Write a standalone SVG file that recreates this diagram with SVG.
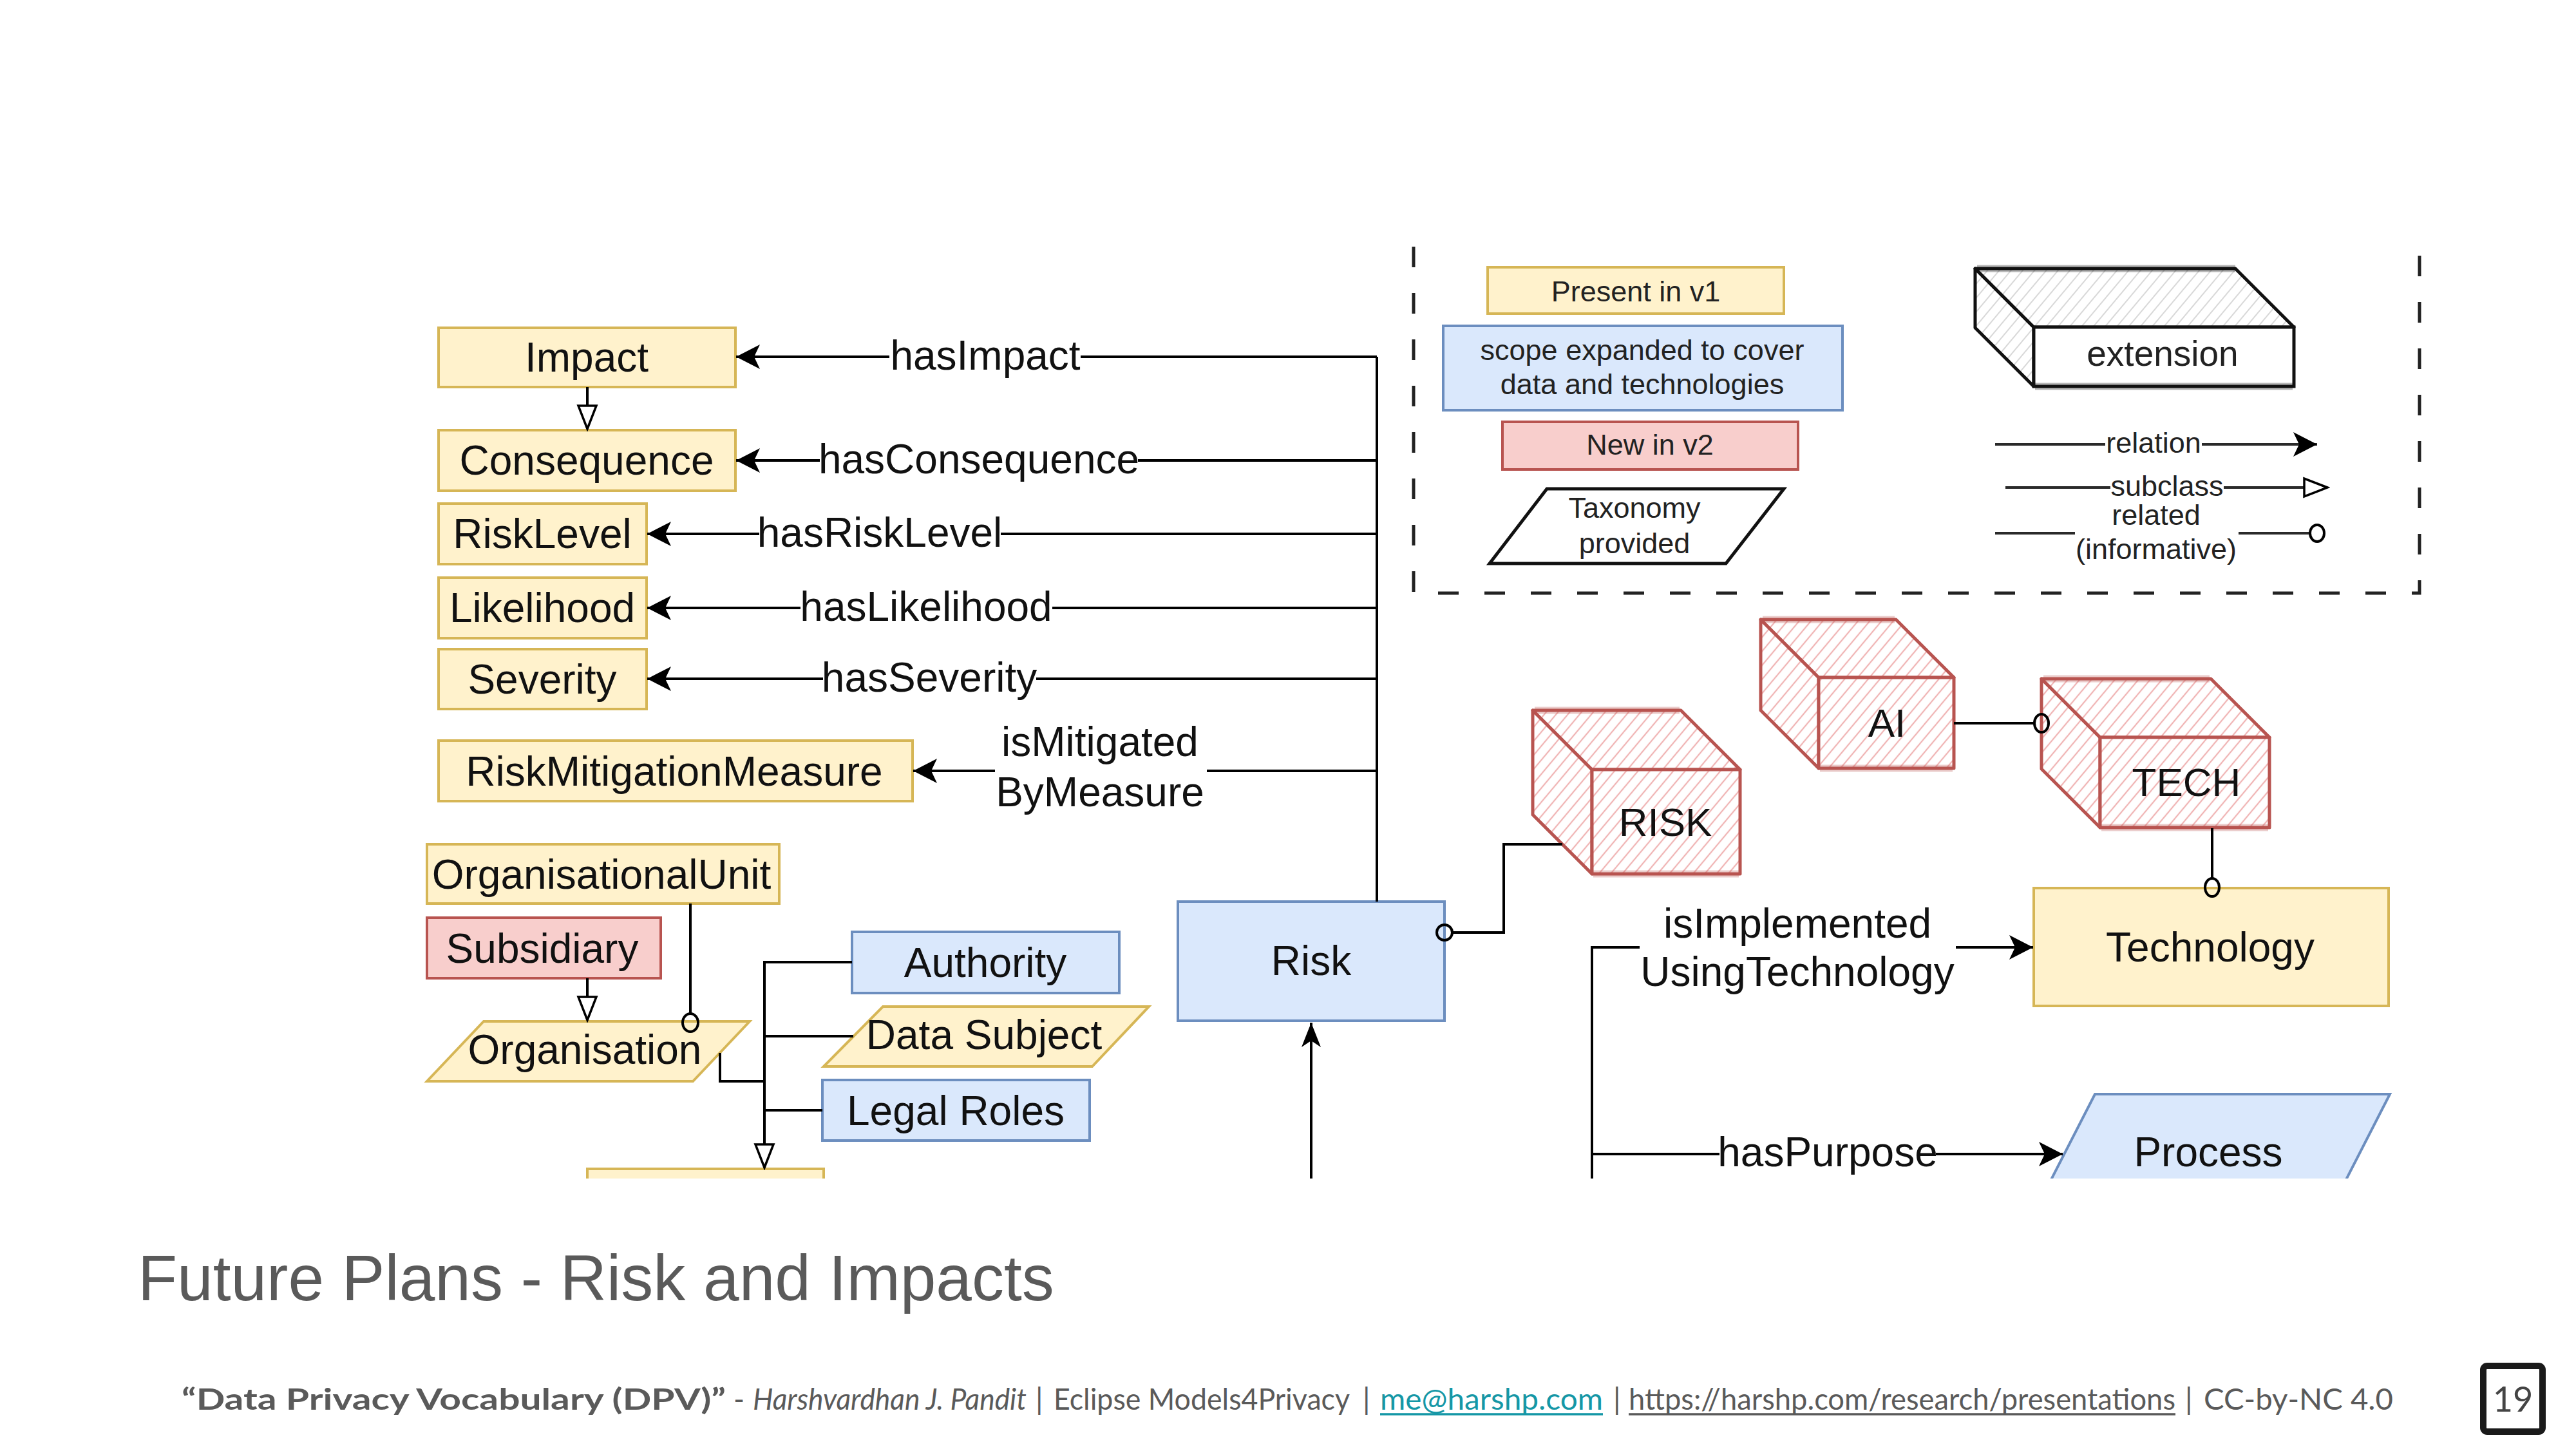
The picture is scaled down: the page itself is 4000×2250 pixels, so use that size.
<svg xmlns="http://www.w3.org/2000/svg" width="4000" height="2250" viewBox="0 0 4000 2250">
<defs>
<style>
.y{fill:#fff2cc;stroke:#d6b656;stroke-width:4}
.b{fill:#dae8fc;stroke:#6c8ebf;stroke-width:4}
.r{fill:#f8cecc;stroke:#b85450;stroke-width:4}
.t{font-family:"Liberation Sans",Arial,sans-serif;font-size:64px;fill:#111;text-anchor:middle}
.lg{font-family:"Liberation Sans",Arial,sans-serif;font-size:45px;fill:#222;text-anchor:middle}
.e{fill:none;stroke:#000;stroke-width:4}
.el{fill:none;stroke:#2a2a2a;stroke-width:4}
.ea{marker-end:url(#arr)}
.es{marker-end:url(#tri)}
.ci{fill:none;stroke:#000;stroke-width:4}
.cr{fill:url(#hatchR);stroke:#b85450;stroke-width:5;stroke-linejoin:round}
.crs{fill:none;stroke:#b85450;stroke-width:11;stroke-opacity:0.3}
.cx{fill:url(#hatchG);stroke:#111;stroke-width:5;stroke-linejoin:round}
.cxs{fill:none;stroke:#111;stroke-width:11;stroke-opacity:0.3}
.ft{font-family:Lato,"Open Sans",sans-serif;font-size:46px;fill:#5a5a5a}
</style>
<pattern id="hatchR" patternUnits="userSpaceOnUse" width="14" height="14" patternTransform="rotate(40)">
<rect width="14" height="14" fill="#fff"/>
<line x1="2" y1="0" x2="2" y2="14" stroke="#f0b4b4" stroke-width="2.2"/>
</pattern>
<pattern id="hatchG" patternUnits="userSpaceOnUse" width="14" height="14" patternTransform="rotate(40)">
<rect width="14" height="14" fill="#fff"/>
<line x1="2" y1="0" x2="2" y2="14" stroke="#d8d8d8" stroke-width="2"/>
</pattern>
<marker id="arr" markerUnits="userSpaceOnUse" viewBox="-40 -21 42 42" markerWidth="42" markerHeight="42" refX="0" refY="0" orient="auto">
<path d="M0,0 L-37,-19 L-28,0 L-37,19 Z" fill="#000"/>
</marker>
<marker id="arr2" markerUnits="userSpaceOnUse" viewBox="-40 -21 42 42" markerWidth="42" markerHeight="42" refX="0" refY="0" orient="auto">
<path d="M0,0 L-38,-15 L-28,0 L-38,15 Z" fill="#000"/>
</marker>
<marker id="tri" markerUnits="userSpaceOnUse" viewBox="-42 -20 46 40" markerWidth="46" markerHeight="40" refX="0" refY="0" orient="auto">
<path d="M0,0 L-36,-14 L-36,14 Z" fill="#fff" stroke="#000" stroke-width="3.5" stroke-linejoin="miter"/>
</marker>
<clipPath id="clipD"><rect x="0" y="0" width="4000" height="1830"/></clipPath>
</defs>
<rect width="4000" height="2250" fill="#fff"/>

<g id="legend">
<path d="M2195,383 V921 H3757 V383" fill="none" stroke="#222" stroke-width="5" stroke-dasharray="32 40"/>
<g id="legend-v1"><rect class="y" x="2310" y="415" width="460" height="72"/><text class="lg" x="2540" y="468">Present in v1</text></g>
<g id="legend-scope"><rect class="b" x="2241" y="506" width="620" height="131"/><text class="lg" x="2550" y="559">scope expanded to cover</text><text class="lg" x="2550" y="612">data and technologies</text></g>
<g id="legend-v2"><rect class="r" x="2333" y="655" width="459" height="74"/><text class="lg" x="2562" y="706">New in v2</text></g>
<g id="legend-taxonomy"><path d="M2402,759 H2770 L2680,875 H2313 Z" fill="#fff" stroke="#111" stroke-width="5"/><text class="lg" x="2538" y="804">Taxonomy</text><text class="lg" x="2538" y="859">provided</text></g>
<g id="legend-extension">
<path class="cx" d="M3067,417 L3158,508 V600 L3067,509 Z"/>
<path class="cx" d="M3067,417 H3471 L3562,508 H3158 Z"/>
<rect x="3158" y="508" width="404" height="92" fill="#fff" stroke="#111" stroke-width="5"/>
<path class="cxs" d="M3070,417 H3471 M3160,600 H3560"/>
<text x="3358" y="568" font-family="'Liberation Sans',Arial,sans-serif" font-size="55" fill="#222" text-anchor="middle">extension</text>
</g>
<g id="legend-lines">
<path class="el" d="M3098,690 H3269 M3419,690 H3598" marker-end="url(#arr)"/>
<text class="lg" x="3344" y="703">relation</text>
<path class="el" d="M3114,757 H3277 M3453,757 H3614" marker-end="url(#tri)"/>
<text class="lg" x="3365" y="770">subclass</text>
<path class="el" d="M3098,828 H3222 M3476,828 H3586"/>
<ellipse class="ci" cx="3598" cy="828" rx="11" ry="13"/>
<text class="lg" x="3348" y="815">related</text>
<text class="lg" x="3348" y="868">(informative)</text>
</g>
</g>

<g id="nodes">
<g id="impact"><rect class="y" x="681" y="509" width="461" height="92"/><text class="t" x="911" y="577">Impact</text></g>
<g id="consequence"><rect class="y" x="681" y="668" width="461" height="94"/><text class="t" x="911" y="737">Consequence</text></g>
<g id="risklevel"><rect class="y" x="681" y="782" width="323" height="94"/><text class="t" x="842" y="851">RiskLevel</text></g>
<g id="likelihood"><rect class="y" x="681" y="897" width="323" height="94"/><text class="t" x="842" y="966">Likelihood</text></g>
<g id="severity"><rect class="y" x="681" y="1008" width="323" height="93"/><text class="t" x="842" y="1077">Severity</text></g>
<g id="riskmitigationmeasure"><rect class="y" x="681" y="1150" width="736" height="94"/><text class="t" x="1047" y="1220">RiskMitigationMeasure</text></g>
<g id="organisationalunit"><rect class="y" x="663" y="1311" width="547" height="92"/><text class="t" x="934" y="1380">OrganisationalUnit</text></g>
<g id="subsidiary"><rect class="r" x="663" y="1425" width="363" height="94"/><text class="t" x="842" y="1495">Subsidiary</text></g>
<g id="organisation"><path class="y" d="M751,1586 H1164 L1076,1679 H663 Z"/><text class="t" x="908" y="1652">Organisation</text></g>
<g id="authority"><rect class="b" x="1323" y="1447" width="415" height="95"/><text class="t" x="1530" y="1517">Authority</text></g>
<g id="datasubject"><path class="y" d="M1371,1563 H1784 L1696,1656 H1279 Z"/><text class="t" x="1528" y="1629">Data Subject</text></g>
<g id="legalroles"><rect class="b" x="1277" y="1677" width="415" height="94"/><text class="t" x="1484" y="1747">Legal Roles</text></g>
<g id="bottombox" clip-path="url(#clipD)"><rect class="y" x="912" y="1815" width="367" height="90"/></g>
<g id="risk"><rect class="b" x="1829" y="1400" width="414" height="185"/><text class="t" x="2036" y="1514">Risk</text></g>
<g id="technology"><rect class="y" x="3158" y="1379" width="551" height="183"/><text class="t" x="3432" y="1493">Technology</text></g>
<g id="process" clip-path="url(#clipD)"><path class="b" d="M3253,1699 H3711 L3608,1900 H3150 Z"/><text class="t" x="3429" y="1811">Process</text></g>
<g id="risk-ext">
<path class="cr" d="M2380,1103 L2472,1195 V1357 L2380,1265 Z"/>
<path class="cr" d="M2380,1103 H2610 L2702,1195 H2472 Z"/>
<rect class="cr" x="2472" y="1195" width="230" height="162"/>
<path class="crs" d="M2383,1103 H2608 M2474,1357 H2700"/>
<text x="2586" y="1298" font-family="'Liberation Sans',Arial,sans-serif" font-size="62" fill="#111" text-anchor="middle">RISK</text>
</g>
<g id="ai-ext">
<path class="cr" d="M2734,962 L2824,1052 V1193 L2734,1103 Z"/>
<path class="cr" d="M2734,962 H2944 L3034,1052 H2824 Z"/>
<rect class="cr" x="2824" y="1052" width="210" height="141"/>
<path class="crs" d="M2737,962 H2942 M2826,1193 H3032"/>
<text x="2930" y="1144" font-family="'Liberation Sans',Arial,sans-serif" font-size="62" fill="#111" text-anchor="middle">AI</text>
</g>
<g id="tech-ext">
<path class="cr" d="M3170,1054 L3261,1145 V1285 L3170,1194 Z"/>
<path class="cr" d="M3170,1054 H3433 L3524,1145 H3261 Z"/>
<rect class="cr" x="3261" y="1145" width="263" height="140"/>
<path class="crs" d="M3173,1054 H3431 M3263,1285 H3522"/>
<text x="3395" y="1236" font-family="'Liberation Sans',Arial,sans-serif" font-size="62" fill="#111" text-anchor="middle">TECH</text>
</g>
</g>

<g id="connectors">
<path class="e" d="M2138,554 V1400" stroke-width="5"/>
<path class="e" d="M2138,554 H1678"/>
<path class="e ea" d="M1381,554 H1143"/>
<path class="e" d="M2138,715 H1767"/>
<path class="e ea" d="M1273,715 H1143"/>
<path class="e" d="M2138,829 H1554"/>
<path class="e ea" d="M1179,829 H1005"/>
<path class="e" d="M2138,944 H1634"/>
<path class="e ea" d="M1243,944 H1005"/>
<path class="e" d="M2138,1054 H1609"/>
<path class="e ea" d="M1278,1054 H1005"/>
<path class="e" d="M2138,1197 H1874"/>
<path class="e ea" d="M1545,1197 H1418"/>
<path class="e es" d="M912,601 V666" stroke-width="3"/>
<path class="e es" d="M912,1519 V1584" stroke-width="3"/>
<path class="e" d="M1072,1403 V1574" stroke-width="3"/>
<ellipse class="ci" cx="1072" cy="1588" rx="12" ry="14" stroke-width="3.5"/>
<path class="e es" d="M1323,1494 H1187 V1813"/>
<path class="e" d="M1325,1609 H1187"/>
<path class="e" d="M1277,1724 H1187"/>
<path class="e" d="M1118,1635 V1679 H1187"/>
<circle class="ci" cx="2243" cy="1448" r="12"/>
<path class="e" d="M2255,1448 H2335 V1311 H2426"/>
<path class="e" d="M3034,1123 H3158"/>
<ellipse class="ci" cx="3170" cy="1123" rx="11" ry="14"/>
<path class="e" d="M3435,1286 V1365" stroke-width="3"/>
<ellipse class="ci" cx="3435" cy="1378" rx="11" ry="14" stroke-width="3.5"/>
<g clip-path="url(#clipD)">
<path class="e" d="M2546,1471 H2472 V1840" stroke-width="3.5"/>
<path class="e ea" d="M3037,1471 H3157"/>
<path class="e" d="M2472,1792 H2670"/>
<path class="e ea" d="M3006,1792 H3203"/>
<path class="e" d="M2036,1840 V1588" stroke-width="3" marker-end="url(#arr2)"/>
</g>
<text class="t" x="1530" y="574">hasImpact</text>
<text class="t" x="1520" y="735">hasConsequence</text>
<text class="t" x="1366" y="849">hasRiskLevel</text>
<text class="t" x="1438" y="964">hasLikelihood</text>
<text class="t" x="1443" y="1074">hasSeverity</text>
<text class="t" x="1708" y="1174">isMitigated</text>
<text class="t" x="1708" y="1252">ByMeasure</text>
<text class="t" x="2791" y="1456">isImplemented</text>
<text class="t" x="2791" y="1531">UsingTechnology</text>
<text class="t" x="2838" y="1811">hasPurpose</text>
</g>

<g id="footer">
<text x="214" y="2019" font-family="'Liberation Sans',Arial,sans-serif" font-size="100" fill="#5a5a5a">Future Plans - Risk and Impacts</text>
<text class="ft" x="282" y="2189" font-weight="700" textLength="845" lengthAdjust="spacingAndGlyphs">“Data Privacy Vocabulary (DPV)”</text>
<text class="ft" x="1139" y="2189">-</text>
<text class="ft" x="1169" y="2189" font-style="italic" textLength="425" lengthAdjust="spacingAndGlyphs">Harshvardhan J. Pandit</text>
<text class="ft" x="1608" y="2189">|</text>
<text class="ft" x="1636" y="2189" textLength="460" lengthAdjust="spacingAndGlyphs">Eclipse Models4Privacy</text>
<text class="ft" x="2116" y="2189">|</text>
<text class="ft" x="2143" y="2189" style="fill:#1597a6" textLength="346" lengthAdjust="spacingAndGlyphs">me@harshp.com</text>
<line x1="2143" y1="2196" x2="2489" y2="2196" stroke="#1597a6" stroke-width="3.5"/>
<text class="ft" x="2505" y="2189">|</text>
<text class="ft" x="2529" y="2189" textLength="849" lengthAdjust="spacingAndGlyphs">https://harshp.com/research/presentations</text>
<line x1="2529" y1="2196" x2="3378" y2="2196" stroke="#5a5a5a" stroke-width="3.5"/>
<text class="ft" x="3393" y="2189">|</text>
<text class="ft" x="3422" y="2189" textLength="294" lengthAdjust="spacingAndGlyphs">CC-by-NC 4.0</text>
<rect x="3856" y="2121" width="92" height="102" rx="6" fill="#fff" stroke="#1a1a1a" stroke-width="10"/>
<text x="3902" y="2192" font-family="Lato,'Open Sans',sans-serif" font-size="54" fill="#444" text-anchor="middle">19</text>
</g>
</svg>
